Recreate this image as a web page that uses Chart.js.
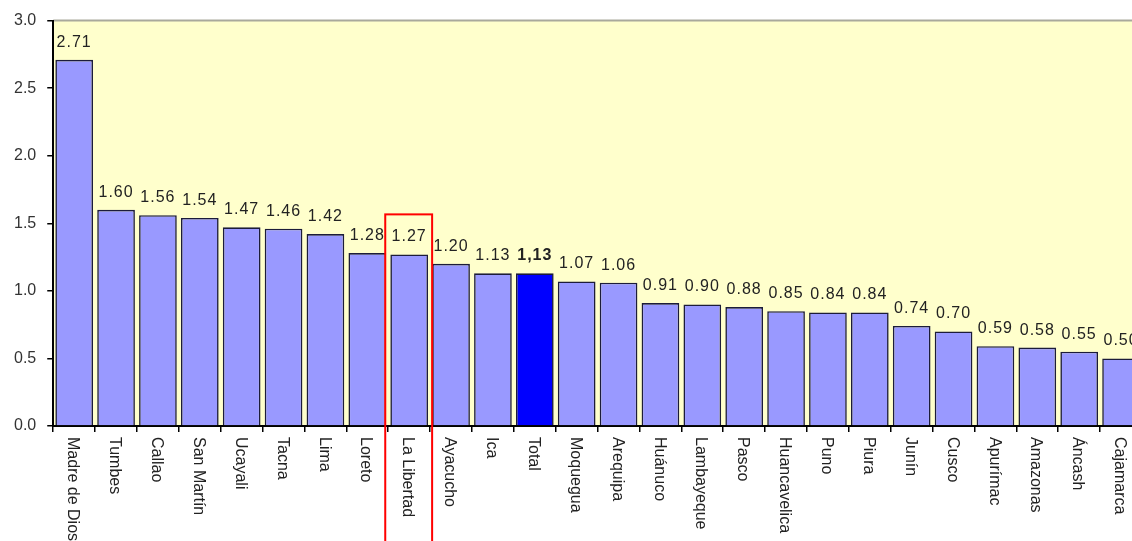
<!DOCTYPE html>
<html>
<head>
<meta charset="utf-8">
<script src="https://cdn.jsdelivr.net/npm/chart.js@4/dist/chart.umd.min.js"></script>
<style>
  html, body { margin: 0; padding: 0; background: #fff; overflow: hidden; }
  #wrap { width: 1132px; height: 541px; overflow: hidden; }
  canvas { display: block; }
</style>
</head>
<body>
<div id="wrap"><canvas id="c" width="1150" height="541"></canvas></div>
<script>
// Regions, ordered by value, with the national total in its place
const regions = ['Madre de Dios', 'Tumbes', 'Callao', 'San Martín', 'Ucayali', 'Tacna', 'Lima', 'Loreto',
  'La Libertad', 'Ayacucho', 'Ica', 'Total', 'Moquegua', 'Arequipa', 'Huánuco', 'Lambayeque', 'Pasco',
  'Huancavelica', 'Puno', 'Piura', 'Junín', 'Cusco', 'Apurímac', 'Amazonas', 'Áncash', 'Cajamarca'];
const values = [2.71, 1.60, 1.56, 1.54, 1.47, 1.46, 1.42, 1.28,
  1.27, 1.20, 1.13, 1.13, 1.07, 1.06, 0.91, 0.90, 0.88,
  0.85, 0.84, 0.84, 0.74, 0.70, 0.59, 0.58, 0.55, 0.50];
const yTicks = [0, 0.5, 1.0, 1.5, 2.0, 2.5, 3.0];
const totalName = 'Total';
const highlighted = 'La Libertad';

const FONT = '"Liberation Sans", Arial, sans-serif';
const barColors = regions.map(r => r === totalName ? '#0000ff' : '#9999ff');

// Pale plot background and grey top rule
const plotBackground = {
  id: 'plotBackground',
  beforeDraw(chart) {
    const { ctx, chartArea: a } = chart;
    ctx.save();
    ctx.fillStyle = '#ffffcc';
    ctx.fillRect(a.left, a.top, a.right - a.left, a.bottom - a.top);
    ctx.strokeStyle = '#a9a99c';
    ctx.lineWidth = 2;
    ctx.beginPath();
    ctx.moveTo(a.left, a.top);
    ctx.lineTo(a.right, a.top);
    ctx.stroke();
    ctx.restore();
  }
};

// Value printed above each bar
const valueLabels = {
  id: 'valueLabels',
  afterDatasetsDraw(chart) {
    const { ctx } = chart;
    const meta = chart.getDatasetMeta(0);
    ctx.save();
    ctx.fillStyle = '#222';
    ctx.textAlign = 'center';
    ctx.textBaseline = 'alphabetic';
    ctx.letterSpacing = '1px';
    meta.data.forEach((bar, i) => {
      const isTotal = regions[i] === totalName;
      let txt = values[i].toFixed(2);
      if (isTotal) txt = txt.replace('.', ',');
      ctx.font = (isTotal ? 'bold ' : '') + '16px ' + FONT;
      ctx.fillText(txt, bar.x, bar.y - 13);
    });
    ctx.restore();
  }
};

// Category names written downward under the axis, plus the highlight frame
const categoryLabels = {
  id: 'categoryLabels',
  afterDraw(chart) {
    const { ctx, scales: { x, y } } = chart;
    ctx.save();
    ctx.fillStyle = '#222';
    ctx.font = '16px ' + FONT;
    ctx.textAlign = 'left';
    ctx.textBaseline = 'middle';
    regions.forEach((name, i) => {
      const cx = x.getPixelForValue(i) - 1.5;
      ctx.save();
      ctx.translate(cx, y.bottom + 11);
      ctx.rotate(Math.PI / 2);
      ctx.fillText(name, 0, 0);
      ctx.restore();
    });

    const hi = regions.indexOf(highlighted);
    const half = (x.getPixelForValue(1) - x.getPixelForValue(0)) / 2;
    const cx = x.getPixelForValue(hi);
    const top = y.getPixelForValue(values[hi]) - 40;
    ctx.strokeStyle = '#ff0000';
    ctx.lineWidth = 2;
    ctx.strokeRect(cx - half - 3, top, half * 2 + 5, chart.height + 10 - top);
    ctx.restore();
  }
};

new Chart(document.getElementById('c'), {
  type: 'bar',
  data: {
    labels: regions,
    datasets: [{
      data: values,
      backgroundColor: barColors,
      borderColor: '#1c1c3a',
      borderWidth: 1.6,
      categoryPercentage: 0.9,
      barPercentage: 1.0
    }]
  },
  options: {
    responsive: false,
    animation: false,
    devicePixelRatio: 1,
    layout: { padding: { top: 20, left: 3, right: 8, bottom: 109 } },
    plugins: { legend: { display: false }, tooltip: { enabled: false } },
    scales: {
      x: {
        grid: { display: true, drawOnChartArea: false, tickLength: 6, color: '#000', lineWidth: 1.5, offset: true },
        border: { display: true, color: '#000', width: 2 },
        ticks: { display: false }
      },
      y: {
        min: 0,
        max: 3,
        afterBuildTicks(scale) { scale.ticks = yTicks.map(v => ({ value: v })); },
        ticks: {
          callback: v => Number(v).toFixed(1),
          font: { family: FONT, size: 16 },
          color: '#333',
          padding: 11
        },
        grid: { display: true, drawOnChartArea: false, tickLength: 6, color: '#000', lineWidth: 1.5 },
        border: { display: true, color: '#000', width: 2 }
      }
    }
  },
  plugins: [plotBackground, valueLabels, categoryLabels]
});
</script>
</body>
</html>
